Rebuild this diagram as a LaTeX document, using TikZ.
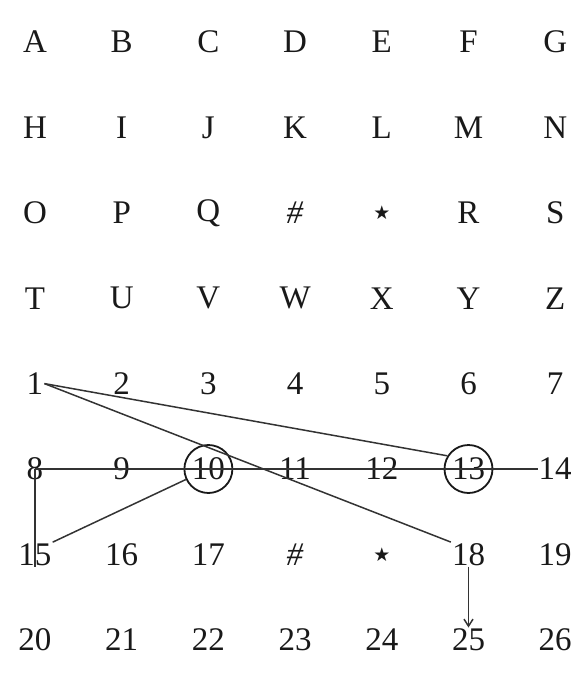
\documentclass[tikz,border=0pt]{standalone}
\usepackage{fontspec}
\setmainfont{Liberation Serif}
\newfontfamily\starfont{DejaVu Sans}
\usetikzlibrary{arrows.meta}
\newcommand{\starmark}{{\starfont\fontsize{19}{19}\selectfont ★}}
\newcommand{\hashmark}{\textit{\#}}
\tikzstyle{cell} = [inner sep=1pt, font=\fontsize{33}{33}\selectfont, text=black!90]
\tikzstyle{link} = [line width=1.5pt, black!80]
\tikzstyle{ring} = [circle, draw=black!90, line width=1.8pt, minimum size=48pt, inner sep=0pt]
\tikzstyle{arrow} = [line width=1.5pt, black!80, -{Straight Barb[length=7pt, width=9pt]}]

\begin{document}
\begin{tikzpicture}[x=1pt, y=-1pt]
\useasboundingbox (0,0) rectangle (583,673);

% Grid of letters and numbers
\foreach \t/\nm [count=\k from 0] in {A/A,B/B,C/C,D/D,E/E,F/F,G/G,
    H/H,I/I,J/J,K/K,L/L,M/M,N/N,
    O/O,P/P,Q/Q,\hashmark/hashA,\starmark/starA,R/R,S/S,
    T/T,U/U,V/V,W/W,X/X,Y/Y,Z/Z,
    1/n1,2/n2,3/n3,4/n4,5/n5,6/n6,7/n7,
    8/n8,9/n9,10/n10,11/n11,12/n12,13/n13,14/n14,
    15/n15,16/n16,17/n17,\hashmark/hashB,\starmark/starB,18/n18,19/n19,
    20/n20,21/n21,22/n22,23/n23,24/n24,25/n25,26/n26}
  \node[cell] (\nm) at ({35+86.7*mod(\k,7)}, {42+85.4*int(\k/7)}) {\t};

% Rings
\node[ring] (ring10) at (n10) {};
\node[ring] (ring13) at (n13) {};

% Connectors
\draw[link] (n1.east) -- (ring13.148);
\draw[link] (n1.east) -- (n18.north west);
\draw[link] (n8.center) -- (n14.west);
\draw[link] (n8.center) -- (n8.center |- n15.south);
\draw[link] (n15.north east) -- (ring10.205);
\draw[arrow] (n18.south) -- (n25.north);

\end{tikzpicture}
\end{document}
